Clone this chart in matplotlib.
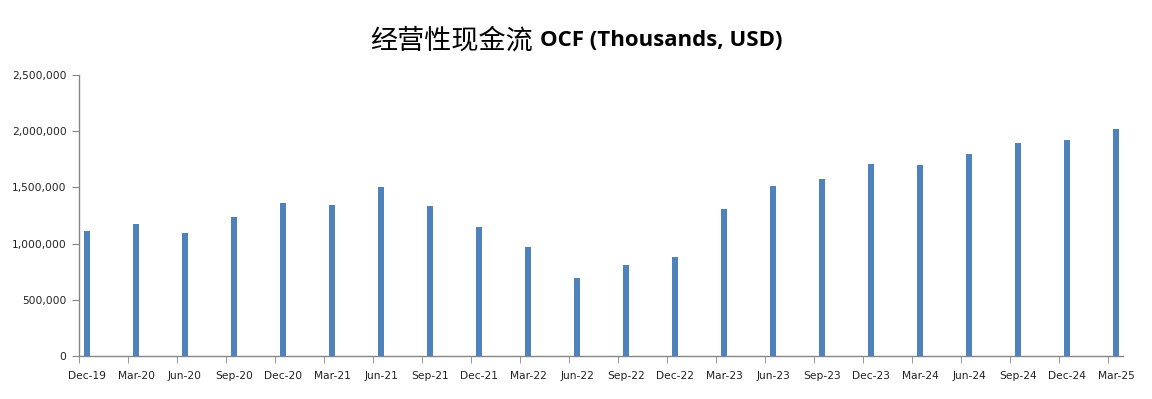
import matplotlib
matplotlib.use("Agg")
import matplotlib.pyplot as plt
from matplotlib.ticker import FuncFormatter, FixedLocator
import numpy as np

# Quarter labels and operating cash flow (thousands USD).
quarters = ["Dec-19", "Mar-20", "Jun-20", "Sep-20", "Dec-20", "Mar-21", "Jun-21",
            "Sep-21", "Dec-21", "Mar-22", "Jun-22", "Sep-22", "Dec-22", "Mar-23",
            "Jun-23", "Sep-23", "Dec-23", "Mar-24", "Jun-24", "Sep-24", "Dec-24",
            "Mar-25"]
ocf = [1112000, 1174000, 1094000, 1237000, 1361000, 1343000, 1504000,
       1335000, 1148000, 970000, 694000, 810000, 881000, 1308000,
       1512000, 1575000, 1708000, 1699000, 1797000, 1895000, 1922000,
       2020000]
yticks = [0, 500000, 1000000, 1500000, 2000000, 2500000]

BAR_COLOR = "#4F81BD"
AXIS_COLOR = "#868686"

fig = plt.figure(figsize=(11.52, 3.99), dpi=100)
ax = fig.add_axes([79 / 1152, 43 / 399, 1044 / 1152, 281 / 399])

x = np.arange(len(quarters))
ax.bar(x, ocf, width=0.122, color=BAR_COLOR, zorder=3)

# tick marks sit a little left of each bar (Excel date axis style)
offset = 8 / 49
ax.set_xlim(-offset, len(quarters) - 1 + 0.14)
ax.set_ylim(0, 2500000)

ax.xaxis.set_major_locator(FixedLocator(x))
ax.set_xticklabels(quarters)
ax.xaxis.set_minor_locator(FixedLocator(x - offset))
ax.tick_params(axis="x", which="major", length=0, pad=11, labelsize=7.7,
               labelcolor="#222222")
ax.tick_params(axis="x", which="minor", length=5, color=AXIS_COLOR, direction="out")

ax.set_yticks(yticks)
ax.yaxis.set_major_formatter(FuncFormatter(lambda v, p: f"{int(v):,}"))
ax.tick_params(axis="y", length=5, color=AXIS_COLOR, labelsize=7.7,
               labelcolor="#222222", pad=4)

for side in ["top", "right"]:
    ax.spines[side].set_visible(False)
for side in ["left", "bottom"]:
    ax.spines[side].set_color(AXIS_COLOR)
    ax.spines[side].set_linewidth(1)

# title: Chinese part plus bold latin part
fig.text(533 / 1152, 1 - 41 / 399, "经营性现金流", ha="right", va="center",
         fontsize=19.5, family=["Noto Sans CJK SC", "DejaVu Sans"])
fig.text(540 / 1152, 1 - 41 / 399, "OCF (Thousands, USD)", ha="left", va="center",
         fontsize=16, fontweight="bold", family=["Open Sans", "DejaVu Sans"])

fig.savefig("out.png", dpi=100)
